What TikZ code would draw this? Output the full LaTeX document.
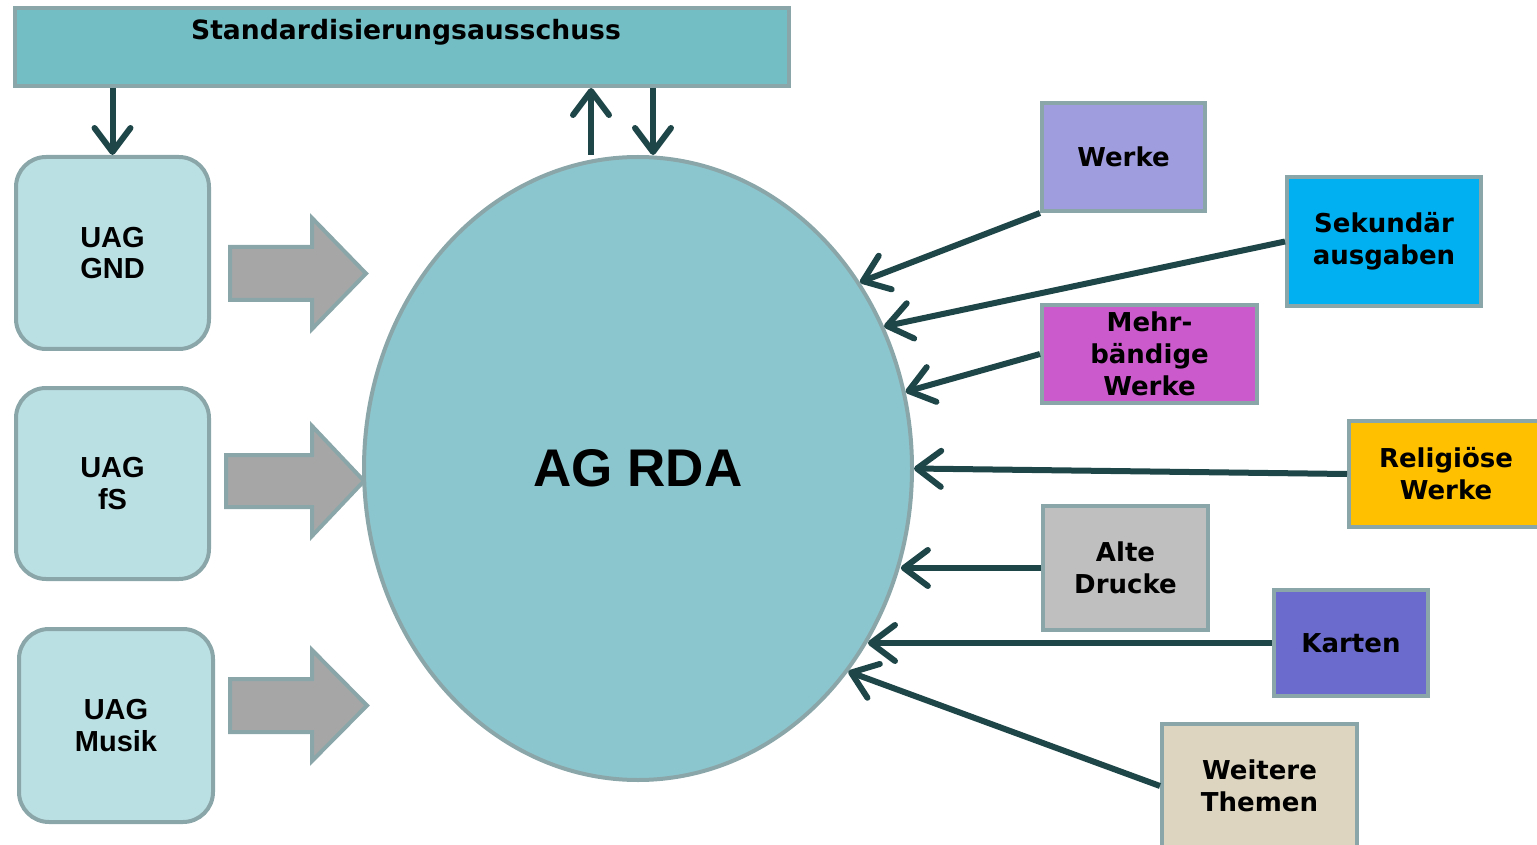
\documentclass[tikz,border=0pt]{standalone}
\usepackage{fontspec}
\setmainfont{Liberation Sans}
\newfontfamily\dvs{DejaVu Sans}
\usetikzlibrary{arrows.meta,shapes.geometric,calc}
\definecolor{topfill}{HTML}{72BEC4}
\definecolor{bord}{HTML}{8BA6A8}
\definecolor{uagfill}{HTML}{BBE0E3}
\definecolor{ellfill}{HTML}{8BC6CE}
\definecolor{dark}{HTML}{1E4548}
\definecolor{grayfill}{HTML}{A6A6A6}
\definecolor{werkefill}{HTML}{9F9DDD}
\definecolor{sekfill}{HTML}{00B0F0}
\definecolor{mehrfill}{HTML}{CB5BCC}
\definecolor{relfill}{HTML}{FFC000}
\definecolor{altefill}{HTML}{BFBFBF}
\definecolor{kartenfill}{HTML}{6B6ACD}
\definecolor{weiterefill}{HTML}{DDD5BF}
\begin{document}
\begin{tikzpicture}[x=0.5pt,y=-0.5pt,
  box/.style={draw=bord, line width=2pt, inner sep=0pt, align=center, text=black,
    font=\dvs\bfseries\fontsize{13}{16}\selectfont},
  uag/.style={box, fill=uagfill, rounded corners=15pt,
    font=\bfseries\fontsize{14.5}{15.8}\selectfont},
  conn/.style={draw=dark, line width=3pt, -{Straight Barb[length=12pt,width=18pt,round]}},
  bigarrow/.style={fill=grayfill, draw=bord, line width=2pt}]
\useasboundingbox (0,0) rectangle (1537,845);

% top box
\node[box, fill=topfill, minimum width=387pt, minimum height=39pt] (sa) at (402,47) {};
\node[font=\dvs\bfseries\fontsize{13.3}{15}\selectfont, inner sep=0pt] (satext) at (406,32) {Standardisierungsausschuss};

% UAG boxes
\node[uag, minimum width=96.5pt, minimum height=96pt] (gnd) at (112.5,253) {UAG\\GND};
\node[uag, minimum width=96.5pt, minimum height=95.5pt] (fs) at (112.5,483.5) {UAG\\fS};
\node[uag, minimum width=97pt, minimum height=96.5pt] (musik) at (116,725.5) {UAG\\Musik};

% big gray arrows
\draw[bigarrow] (230,247) -- (312,247) -- (312,218) -- (366,273.5) -- (312,329) -- (312,300) -- (230,300) -- cycle;
\draw[bigarrow] (226,455) -- (312,455) -- (312,426) -- (364,481) -- (312,536) -- (312,507) -- (226,507) -- cycle;
\draw[bigarrow] (230,679) -- (312,679) -- (312,650) -- (367,705.5) -- (312,761) -- (312,732) -- (230,732) -- cycle;

% ellipse
\node[ellipse, draw=bord, line width=2pt, fill=ellfill, minimum width=274pt, minimum height=311.5pt, inner sep=0pt,
  font=\bfseries\fontsize{26.5}{30}\selectfont] (agrda) at (638,468.5) {AG RDA};

% right boxes
\node[box, fill=werkefill, minimum width=81.5pt, minimum height=54pt] (werke) at (1123.5,157) {Werke};
\node[box, fill=sekfill, minimum width=97pt, minimum height=64.5pt] (sek) at (1384,241.5) {Sekundär\\ausgaben};
\node[box, fill=mehrfill, minimum width=107.5pt, minimum height=49pt] (mehr) at (1149.5,354) {Mehr-\\bändige\\Werke};
\node[box, fill=relfill, minimum width=97pt, minimum height=53pt] (rel) at (1446,474) {Religiöse\\Werke};
\node[box, fill=altefill, minimum width=82.5pt, minimum height=62pt] (alte) at (1125.5,568) {Alte\\Drucke};
\node[box, fill=kartenfill, minimum width=77pt, minimum height=53pt] (karten) at (1351,643) {Karten};
\node[box, fill=weiterefill, minimum width=97.5pt, minimum height=62pt] (weitere) at (1259.5,786) {Weitere\\Themen};

% top connectors
\coordinate (upx) at ($(agrda.north)+(-47,0)$);
\coordinate (dnx) at ($(agrda.north)+(15,0)$);
\draw[conn] (sa.south -| gnd.north) -- (gnd.north);
\draw[conn] (upx) -- (upx |- sa.south);
\draw[conn] (dnx |- sa.south) -- (dnx);

% right connectors
\draw[conn] (werke.south west) -- (agrda.40.5);
\draw[conn] (sek.west) -- (agrda.30.9);
\draw[conn] (mehr.west) -- (agrda.16.9);
\draw[conn] (rel.west) -- (agrda.0);
\draw[conn] (alte.west) -- (agrda.-20.8 |- alte.west);
\draw[conn] (karten.west) -- (agrda.-37.8 |- karten.west);
\draw[conn] (weitere.west) -- (agrda.-44.5);
\end{tikzpicture}
\end{document}
